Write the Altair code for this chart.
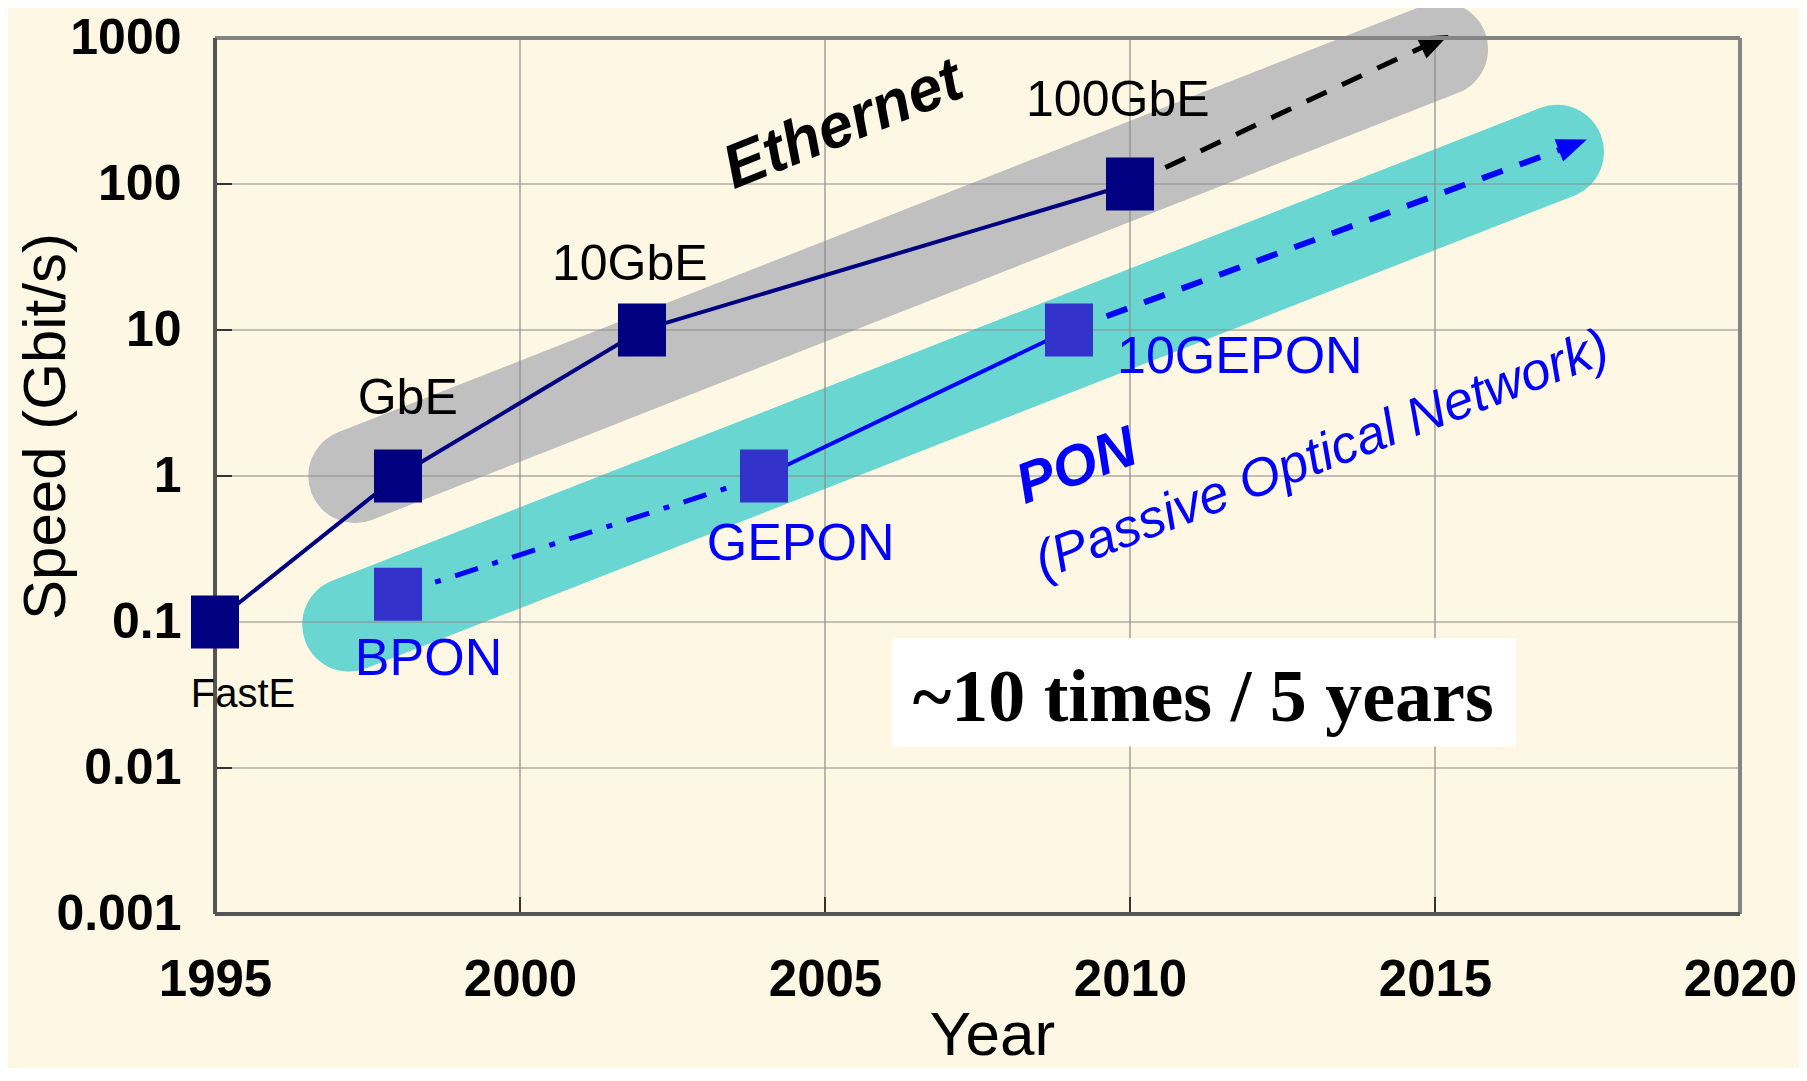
import altair as alt
import pandas as pd

# ---------------- data ----------------
year_ticks = [1995, 2000, 2005, 2010, 2015, 2020]
speed_ticks = [0.001, 0.01, 0.1, 1, 10, 100, 1000]

eth_names = ["FastE", "GbE", "10GbE", "100GbE"]
eth_years = [1995, 1998, 2002, 2010]
eth_speed = [0.1, 1, 10, 100]
eth_label_x = [1995.46, 1998.16, 2001.8, 2009.8]
eth_label_y = [0.0314, 3.37, 27.7, 369]
eth_label_size = [40, 50, 50, 50]

pon_names = ["BPON", "GEPON", "10GEPON"]
pon_years = [1998, 2004, 2009]
pon_speed = [0.155, 1, 10]
pon_label_x = [1998.5, 2004.6, 2011.8]
pon_label_y = [0.0559, 0.341, 6.49]

# trend arrows (start at last point, end at arrow head)
eth_trend_x = [2010, 2015.0]
eth_trend_y = [100, 950]
pon_trend_x = [2009, 2017.26]
pon_trend_y = [10, 185]

# broad highlight bands
eth_band_x = [1997.3, 2015.1]
eth_band_y = [1.0, 840]
pon_band_x = [1997.2, 2017.0]
pon_band_y = [0.096, 166]

# annotations
ethernet_text = ["Ethernet"]
ethernet_pos = [2005.3, 254]
pon_text = ["PON"]
pon_pos = [2009.13, 1.15]
pon_full_text = ["(Passive Optical Network)"]
pon_full_pos = [2013.15, 1.39]
rate_text = ["~10 times / 5 years"]
rate_box_x = [2006.09, 2016.33]
rate_box_y = [0.0776, 0.01403]
rate_text_pos = [2011.2, 0.0211]

# ---------------- styling ----------------
BG = "#fef7e3"
NAVY = "#000080"
PONSQ = "#3333cc"
BLUE = "#0000ff"
SANS = "Liberation Sans"
SERIF = "Liberation Serif"
SQUARE = "M-0.906,-1H0.906V1H-0.906Z"
HEAD = "M1,0L-1,-0.8L-1,0.8Z"

xscale = alt.Scale(domain=[year_ticks[0], year_ticks[-1]], nice=False, zero=False)
yscale = alt.Scale(type="log", domain=[speed_ticks[0], speed_ticks[-1]], nice=False)

xaxis = alt.Axis(
    values=year_ticks, format="d", grid=False, domain=False, ticks=False, tickSize=0,
    labelFont=SANS, labelFontWeight="bold", labelFontSize=51, labelColor="black",
    labelPadding=41, labelFlush=False, labelBaseline="top",
    title="Year", titleFont=SANS, titleFontWeight="normal", titleFontSize=62,
    titleColor="black", titleX=777, titleY=140, titleAlign="center",
    titleBaseline="alphabetic",
)
yaxis = alt.Axis(
    values=speed_ticks, format="~g", grid=False, domain=False, ticks=False, tickSize=0,
    labelFont=SANS, labelFontWeight="bold", labelFontSize=50, labelColor="black",
    labelPadding=34, labelFlush=False, labelBaseline="middle",
    title="Speed (Gbit/s)", titleFont=SANS, titleFontWeight="normal", titleFontSize=60,
    titleColor="black", titleAngle=270, titleX=-151, titleY=388, titleAlign="center",
    titleBaseline="alphabetic",
)

X = lambda f="x": alt.X(f"{f}:Q", scale=xscale, axis=xaxis)
Y = lambda f="y": alt.Y(f"{f}:Q", scale=yscale, axis=yaxis)

# bands
bands_df = pd.DataFrame({
    "x": eth_band_x + pon_band_x,
    "y": eth_band_y + pon_band_y,
    "band": ["Ethernet"] * 2 + ["PON"] * 2,
})
bands = alt.Chart(bands_df).mark_line(strokeWidth=94, strokeCap="round").encode(
    x=X(), y=Y(), detail="band:N",
    color=alt.Color("band:N", scale=alt.Scale(domain=["Ethernet", "PON"],
                                               range=["#c0c0c0", "#6ad6d2"]), legend=None),
)

# grid lines
vgrid_df = pd.DataFrame({"x": year_ticks[1:-1], "y": speed_ticks[0], "y2": speed_ticks[-1]})
hgrid_df = pd.DataFrame({"y": speed_ticks[1:-1], "x": year_ticks[0], "x2": year_ticks[-1]})
vgrid = alt.Chart(vgrid_df).mark_rule(color="#8a8a8a", strokeWidth=1.2).encode(
    x=X(), y=Y(), y2="y2:Q")
hgrid = alt.Chart(hgrid_df).mark_rule(color="#8a8a8a", strokeWidth=1.2).encode(
    y=Y(), x=X(), x2="x2:Q")

# inner ticks
lt_df = pd.DataFrame({"y": speed_ticks})
bt_df = pd.DataFrame({"x": year_ticks})
lticks = alt.Chart(lt_df).mark_rule(color="#333333", strokeWidth=2).encode(
    y=Y(), x=alt.value(0), x2=alt.value(17))
bticks = alt.Chart(bt_df).mark_rule(color="#333333", strokeWidth=2).encode(
    x=X(), y=alt.value(876), y2=alt.value(859))

# arrow heads
eth_head = alt.Chart(pd.DataFrame({"x": [eth_trend_x[-1]], "y": [eth_trend_y[-1]]})).mark_point(
    shape=HEAD, filled=True, size=900, angle=335, color="black", opacity=1).encode(x=X(), y=Y())
pon_head = alt.Chart(pd.DataFrame({"x": [pon_trend_x[-1]], "y": [pon_trend_y[-1]]})).mark_point(
    shape=HEAD, filled=True, size=900, angle=339, color=BLUE, opacity=1).encode(x=X(), y=Y())

# frame
frame_h = pd.DataFrame({"y": [speed_ticks[-1]], "x": [year_ticks[0]], "x2": [year_ticks[-1]]})
frame_v = pd.DataFrame({"x": [year_ticks[-1]], "y": [speed_ticks[0]], "y2": [speed_ticks[-1]]})
frame_b = pd.DataFrame({"y": [speed_ticks[0]], "x": [year_ticks[0]], "x2": [year_ticks[-1]]})
frame_l = pd.DataFrame({"x": [year_ticks[0]], "y": [speed_ticks[0]], "y2": [speed_ticks[-1]]})
top = alt.Chart(frame_h).mark_rule(color="#858585", strokeWidth=4).encode(y=Y(), x=X(), x2="x2:Q")
right = alt.Chart(frame_v).mark_rule(color="#858585", strokeWidth=4).encode(x=X(), y=Y(), y2="y2:Q")
bottom = alt.Chart(frame_b).mark_rule(color="#555555", strokeWidth=4).encode(y=Y(), x=X(), x2="x2:Q")
left = alt.Chart(frame_l).mark_rule(color="#555555", strokeWidth=4).encode(x=X(), y=Y(), y2="y2:Q")

# lines
eth_df = pd.DataFrame({"x": eth_years, "y": eth_speed, "name": eth_names})
pon_df = pd.DataFrame({"x": pon_years, "y": pon_speed, "name": pon_names})
eth_line = alt.Chart(eth_df).mark_line(color=NAVY, strokeWidth=4).encode(x=X(), y=Y())
eth_trend = alt.Chart(pd.DataFrame({"x": eth_trend_x, "y": eth_trend_y})).mark_line(
    color="black", strokeWidth=5, strokeDash=[22, 17]).encode(x=X(), y=Y())
pon_dashdot = alt.Chart(pon_df.iloc[0:2]).mark_line(
    color=BLUE, strokeWidth=5, strokeDash=[24, 15, 6, 15]).encode(x=X(), y=Y())
pon_solid = alt.Chart(pon_df.iloc[1:3]).mark_line(color=BLUE, strokeWidth=4).encode(x=X(), y=Y())
pon_trend = alt.Chart(pd.DataFrame({"x": pon_trend_x, "y": pon_trend_y})).mark_line(
    color=BLUE, strokeWidth=6, strokeDash=[22, 18]).encode(x=X(), y=Y())

# squares
eth_sq = alt.Chart(eth_df).mark_point(shape=SQUARE, filled=True, size=2809, opacity=1,
                                      color=NAVY).encode(x=X(), y=Y())
pon_sq = alt.Chart(pon_df).mark_point(shape=SQUARE, filled=True, size=2809, opacity=1,
                                      color=PONSQ).encode(x=X(), y=Y())

# labels
eth_lab_df = pd.DataFrame({"x": eth_label_x, "y": eth_label_y, "t": eth_names, "fs": eth_label_size})
eth_labels = alt.Chart(eth_lab_df).mark_text(font=SANS, color="black", baseline="middle").encode(
    x=X(), y=Y(), text="t:N", size=alt.Size("fs:Q", scale=None))
pon_lab_df = pd.DataFrame({"x": pon_label_x, "y": pon_label_y, "t": pon_names})
pon_labels = alt.Chart(pon_lab_df).mark_text(font=SANS, color=BLUE, baseline="middle",
                                             fontSize=52).encode(x=X(), y=Y(), text="t:N")

ethernet_lab = alt.Chart(pd.DataFrame({"x": [ethernet_pos[0]], "y": [ethernet_pos[1]],
                                       "t": ethernet_text})).mark_text(
    font=SANS, fontSize=62, fontWeight="bold", fontStyle="italic", color="black",
    angle=338, baseline="middle").encode(x=X(), y=Y(), text="t:N")
pon_lab = alt.Chart(pd.DataFrame({"x": [pon_pos[0]], "y": [pon_pos[1]], "t": pon_text})).mark_text(
    font=SANS, fontSize=57, fontWeight="bold", fontStyle="italic", color=BLUE,
    angle=340, baseline="middle").encode(x=X(), y=Y(), text="t:N")
pon_full_lab = alt.Chart(pd.DataFrame({"x": [pon_full_pos[0]], "y": [pon_full_pos[1]],
                                       "t": pon_full_text})).mark_text(
    font=SANS, fontSize=53, fontStyle="italic", color=BLUE,
    angle=339, baseline="middle").encode(x=X(), y=Y(), text="t:N")

box = alt.Chart(pd.DataFrame({"x": [rate_box_x[0]], "x2": [rate_box_x[1]],
                              "y": [rate_box_y[0]], "y2": [rate_box_y[1]]})).mark_rect(
    color="white").encode(x=X(), x2="x2:Q", y=Y(), y2="y2:Q")
rate_lab = alt.Chart(pd.DataFrame({"x": [rate_text_pos[0]], "y": [rate_text_pos[1]],
                                   "t": rate_text})).mark_text(
    font=SERIF, fontSize=74, fontWeight="bold", color="black",
    baseline="alphabetic").encode(x=X(), y=Y(), text="t:N")

chart = alt.layer(
    bands, vgrid, hgrid, lticks, bticks, eth_head, pon_head, top, right, bottom, left,
    eth_line, eth_trend, pon_dashdot, pon_solid, pon_trend, eth_sq, pon_sq,
    eth_labels, pon_labels, ethernet_lab, pon_lab, pon_full_lab, box, rate_lab,
).properties(
    width=1525, height=876, background=BG,
    padding={"left": 207, "top": 30, "right": 59, "bottom": 154},
    autosize=alt.AutoSizeParams(type="none"),
).configure_view(stroke=None)

chart.save("out.html", embed_options={"renderer": "svg", "actions": False})
